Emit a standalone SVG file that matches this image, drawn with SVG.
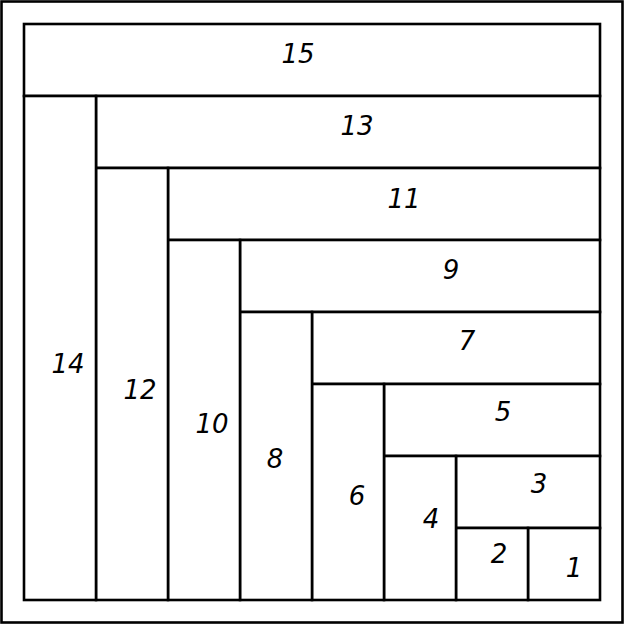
<svg xmlns="http://www.w3.org/2000/svg" width="625" height="625" viewBox="0 0 625 625">
<style>
.c{fill:#fff;stroke:#000;stroke-width:2.6}
.t{font-family:"DejaVu Sans",sans-serif;font-style:italic;font-size:26px;text-anchor:middle;fill:#000}
</style>
<rect x="0" y="0" width="625" height="625" fill="#fff"/>
<rect x="1.5" y="1.5" width="621" height="621" fill="none" stroke="#000" stroke-width="2.6"/>
<g id="r15"><rect class="c" x="24" y="24" width="576" height="72"/><text class="t" x="298" y="63">15</text></g>
<g id="r13"><rect class="c" x="96" y="96" width="504" height="72"/><text class="t" x="357" y="135">13</text></g>
<g id="r11"><rect class="c" x="168" y="168" width="432" height="72"/><text class="t" x="404" y="208">11</text></g>
<g id="r9"><rect class="c" x="240" y="240" width="360" height="72"/><text class="t" x="451" y="279">9</text></g>
<g id="r7"><rect class="c" x="312" y="312" width="288" height="72"/><text class="t" x="467" y="350">7</text></g>
<g id="r5"><rect class="c" x="384" y="384" width="216" height="72"/><text class="t" x="503" y="421">5</text></g>
<g id="r3"><rect class="c" x="456" y="456" width="144" height="72"/><text class="t" x="539" y="493">3</text></g>
<g id="r1"><rect class="c" x="528" y="528" width="72" height="72"/><text class="t" x="574" y="577">1</text></g>
<g id="r2"><rect class="c" x="456" y="528" width="72" height="72"/><text class="t" x="499" y="563">2</text></g>
<g id="r4"><rect class="c" x="384" y="456" width="72" height="144"/><text class="t" x="431" y="528">4</text></g>
<g id="r6"><rect class="c" x="312" y="384" width="72" height="216"/><text class="t" x="357" y="505">6</text></g>
<g id="r8"><rect class="c" x="240" y="312" width="72" height="288"/><text class="t" x="275" y="468">8</text></g>
<g id="r10"><rect class="c" x="168" y="240" width="72" height="360"/><text class="t" x="212" y="433">10</text></g>
<g id="r12"><rect class="c" x="96" y="168" width="72" height="432"/><text class="t" x="140" y="399">12</text></g>
<g id="r14"><rect class="c" x="24" y="96" width="72" height="504"/><text class="t" x="68" y="373">14</text></g>
</svg>
